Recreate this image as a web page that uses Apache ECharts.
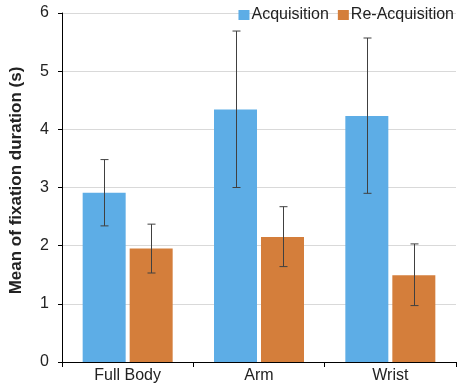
<!DOCTYPE html>
<html>
<head>
<meta charset="utf-8">
<script src="https://cdn.jsdelivr.net/npm/echarts@6/dist/echarts.min.js"></script>
<style>
  html, body { margin: 0; padding: 0; background: #fff; }
  #chart { width: 458px; height: 384px; }
</style>
</head>
<body>
<div id="chart"></div>
<script>
const categories = ["Full Body", "Arm", "Wrist"];
const acquisitionMean = [2.91, 4.34, 4.23];
const acquisitionLow = [2.34, 3.0, 2.9];
const acquisitionHigh = [3.48, 5.69, 5.57];
const reacquisitionMean = [1.95, 2.15, 1.49];
const reacquisitionLow = [1.53, 1.64, 0.97];
const reacquisitionHigh = [2.37, 2.67, 2.03];

const BAR_WIDTH = 43;
const BAR_GAP = 4;
const FONT = "'Liberation Sans', Arial, sans-serif";

function errorBars(low, high, side) {
  return {
    type: "custom",
    name: "err",
    silent: true,
    z: 5,
    data: low.map((v, i) => [i, v, high[i]]),
    renderItem: function (params, api) {
      let offset = side * (BAR_WIDTH + BAR_GAP) / 2;
      let lo = api.coord([api.value(0), api.value(1)]);
      let hi = api.coord([api.value(0), api.value(2)]);
      let x = Math.round(lo[0] + offset) + 0.5;
      let cap = 4;
      let style = { stroke: "#404040", lineWidth: 1 };
      return {
        type: "group",
        children: [
          { type: "line", shape: { x1: x, y1: hi[1], x2: x, y2: lo[1] }, style: style },
          { type: "line", shape: { x1: x - cap, y1: hi[1], x2: x + cap, y2: hi[1] }, style: style },
          { type: "line", shape: { x1: x - cap, y1: lo[1], x2: x + cap, y2: lo[1] }, style: style },
        ],
      };
    },
  };
}

let myChart = echarts.init(document.getElementById("chart"));

let option = {
  animation: false,
  textStyle: { fontFamily: FONT },
  color: ["#5DADE6", "#D47E3B"],
  legend: {
    data: ["Acquisition", "Re-Acquisition"],
    right: -1,
    top: 2,
    width: 230,
    itemWidth: 11,
    itemHeight: 10,
    itemGap: 9,
    icon: "rect",
    textStyle: { fontFamily: FONT, fontSize: 16, color: "#222", padding: [0, 0, 0, -3] },
  },
  grid: { left: 55, right: 2, top: 13, bottom: 22 },
  xAxis: {
    type: "category",
    data: categories,
    axisLine: { lineStyle: { color: "#000", width: 1 } },
    axisTick: { show: true, length: 5, lineStyle: { color: "#000" } },
    axisLabel: { fontFamily: FONT, fontSize: 16, color: "#222", margin: 6 },
  },
  yAxis: {
    type: "value",
    min: 0,
    max: 6,
    interval: 1,
    name: "Mean of fixation duration (s)",
    nameLocation: "middle",
    nameGap: 37,
    nameTextStyle: {
      fontFamily: FONT,
      fontSize: 17,
      fontWeight: "bold",
      color: "#222",
      padding: [0, 0, 0, 14],
    },
    axisLine: { show: true, lineStyle: { color: "#000", width: 1 } },
    axisTick: { show: true, length: 4, lineStyle: { color: "#000" } },
    axisLabel: { fontFamily: FONT, fontSize: 16, color: "#222", margin: 13 },
    splitLine: { lineStyle: { color: "#d9d9d9" } },
  },
  series: [
    {
      name: "Acquisition",
      type: "bar",
      data: acquisitionMean,
      barWidth: BAR_WIDTH,
      barGap: (BAR_GAP / BAR_WIDTH * 100).toFixed(1) + "%",
    },
    {
      name: "Re-Acquisition",
      type: "bar",
      data: reacquisitionMean,
      barWidth: BAR_WIDTH,
    },
    errorBars(acquisitionLow, acquisitionHigh, -1),
    errorBars(reacquisitionLow, reacquisitionHigh, 1),
  ],
};

option && myChart.setOption(option);
</script>
</body>
</html>
